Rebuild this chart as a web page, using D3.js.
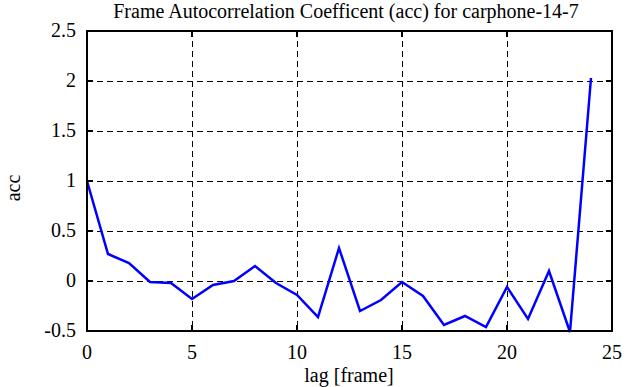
<!DOCTYPE html>
<html>
<head>
<meta charset="utf-8">
<script src="https://cdn.jsdelivr.net/npm/d3@7"></script>
<style>
  body { margin: 0; background: #fff; }
  text { font-family: "Liberation Serif", "DejaVu Serif", serif; fill: #000; }
</style>
</head>
<body>
<svg id="chart" width="641" height="387"></svg>
<script>
// acc per lag
var lags = d3.range(0, 25);
var accValues = [1.0, 0.27, 0.18, -0.01, -0.02, -0.18, -0.04, 0.0, 0.15, -0.02,
  -0.14, -0.36, 0.33, -0.30, -0.19, -0.01, -0.15, -0.44, -0.35, -0.46,
  -0.06, -0.38, 0.10, -0.51, 2.03];
var xTicks = [0, 5, 10, 15, 20, 25];
var yTicks = [-0.5, 0, 0.5, 1, 1.5, 2, 2.5];

var svg = d3.select("#chart");
var pLeft = 87, pRight = 612, pTop = 31, pBottom = 331;

var x = d3.scaleLinear().domain([0, 25]).range([pLeft, pRight]);
var y = d3.scaleLinear().domain([-0.5, 2.5]).range([pBottom, pTop]);

// snap 1px lines to the pixel grid
var px = function (v) { return Math.round(v) + 0.5; };

// grid
var grid = svg.append("g").attr("stroke", "#000").attr("stroke-width", 1)
  .attr("stroke-dasharray", "6,4").attr("shape-rendering", "crispEdges");
grid.selectAll("line.vx").data(xTicks.slice(1, -1)).enter().append("line")
  .attr("x1", function (d) { return px(x(d)); }).attr("x2", function (d) { return px(x(d)); })
  .attr("y1", pTop).attr("y2", pBottom);
grid.selectAll("line.hy").data(yTicks.slice(1, -1)).enter().append("line")
  .attr("y1", function (d) { return px(y(d)); }).attr("y2", function (d) { return px(y(d)); })
  .attr("x1", pLeft).attr("x2", pRight);

// inside ticks on all sides
var tk = 6;
var ticks = svg.append("g").attr("stroke", "#000").attr("stroke-width", 2)
  .attr("shape-rendering", "crispEdges");
xTicks.forEach(function (t) {
  ticks.append("line").attr("x1", x(t)).attr("x2", x(t)).attr("y1", pBottom).attr("y2", pBottom - tk);
  ticks.append("line").attr("x1", x(t)).attr("x2", x(t)).attr("y1", pTop).attr("y2", pTop + tk);
});
yTicks.forEach(function (t) {
  ticks.append("line").attr("y1", y(t)).attr("y2", y(t)).attr("x1", pLeft).attr("x2", pLeft + tk);
  ticks.append("line").attr("y1", y(t)).attr("y2", y(t)).attr("x1", pRight).attr("x2", pRight - tk);
});

// tick labels
svg.append("g").selectAll("text").data(xTicks).enter().append("text")
  .attr("x", x).attr("y", pBottom + 28)
  .attr("text-anchor", "middle").style("font-size", "20px")
  .text(function (d) { return d; });
svg.append("g").selectAll("text").data(yTicks).enter().append("text")
  .attr("x", pLeft - 11).attr("y", function (d) { return y(d) + 6; })
  .attr("text-anchor", "end").style("font-size", "20px")
  .text(function (d) { return d; });

// the series
var line = d3.line()
  .x(function (d, i) { return x(lags[i]); })
  .y(function (d) { return y(d); });
svg.append("path").datum(accValues)
  .attr("fill", "none").attr("stroke", "#0000ff").attr("stroke-width", 2.5)
  .attr("stroke-linejoin", "miter")
  .attr("d", line);

// frame
svg.append("rect").attr("x", pLeft).attr("y", pTop)
  .attr("width", pRight - pLeft).attr("height", pBottom - pTop)
  .attr("fill", "none").attr("stroke", "#000").attr("stroke-width", 2)
  .attr("shape-rendering", "crispEdges");

// labels
svg.append("text").attr("x", 346).attr("y", 18).attr("text-anchor", "middle")
  .style("font-size", "20px")
  .text("Frame Autocorrelation Coefficent (acc) for carphone-14-7");
svg.append("text").attr("x", 349).attr("y", 382).attr("text-anchor", "middle")
  .style("font-size", "20px").text("lag [frame]");
svg.append("text").attr("transform", "translate(20,188) rotate(-90)")
  .attr("text-anchor", "middle").style("font-size", "20px").text("acc");
</script>
</body>
</html>
